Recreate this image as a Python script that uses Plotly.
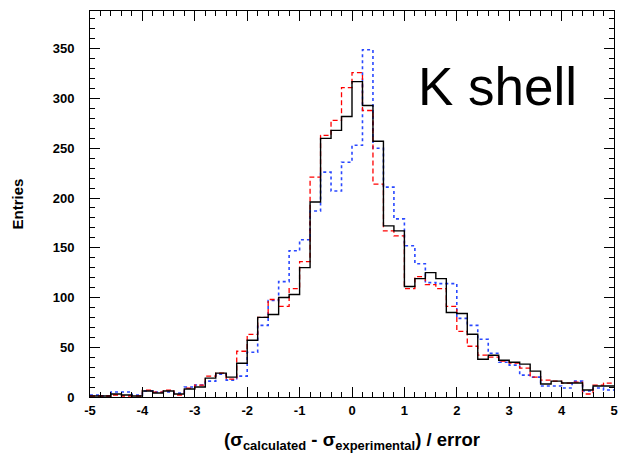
import numpy as np
import plotly.graph_objects as go

# Histogram binning
x_min = -5.0
bin_width = 0.2
n_bins = 50

# Entries per bin
black_counts = [1, 1, 3, 2, 1, 6, 4, 6, 3, 8, 10, 19, 24, 20, 34, 57, 80, 83, 100, 103,
                130, 196, 260, 268, 282, 317, 293, 257, 172, 167, 111, 119, 125, 119, 85,
                84, 63, 38, 42, 37, 35, 33, 26, 13, 16, 14, 14, 7, 11, 11]
red_counts = [1, 1, 2, 1, 1, 7, 5, 7, 2, 9, 12, 21, 24, 18, 46, 63, 80, 98, 91, 109,
              136, 221, 263, 278, 311, 326, 288, 214, 167, 162, 109, 121, 113, 109, 91,
              66, 51, 42, 40, 36, 34, 29, 20, 17, 16, 14, 15, 3, 12, 14]
blue_counts = [2, 1, 5, 5, 2, 6, 5, 5, 4, 10, 12, 16, 23, 17, 21, 45, 72, 97, 116, 147,
               158, 187, 226, 207, 236, 253, 349, 250, 211, 179, 152, 134, 115, 114, 114,
               79, 72, 58, 44, 35, 32, 22, 20, 11, 11, 9, 16, 6, 9, 7]

x_ticks = [-5, -4, -3, -2, -1, 0, 1, 2, 3, 4, 5]
y_ticks = [0, 50, 100, 150, 200, 250, 300, 350]

edges = x_min + bin_width * np.arange(n_bins + 1)

def step(counts):
    return list(edges), list(counts) + [counts[-1]]

fig = go.Figure()
for counts, color, dash, width in [
    (blue_counts, "#2a48ff", "dot", 1.6),
    (red_counts, "#ff0000", "5px,3px", 1.3),
    (black_counts, "#000000", "solid", 1.4),
]:
    xs, ys = step(counts)
    fig.add_trace(go.Scatter(x=xs, y=ys, mode="lines", line_shape="hv",
                             line=dict(color=color, dash=dash, width=width),
                             showlegend=False, hoverinfo="skip"))

fig.add_annotation(text="K shell", x=1.23, y=312, xref="x", yref="y",
                   xanchor="left", yanchor="middle", showarrow=False,
                   font=dict(family="Liberation Sans", size=53, color="black"))

tick_font = dict(family="Liberation Sans", size=13, color="black", weight="bold")

fig.update_xaxes(range=[-5, 5], tickmode="array", tickvals=x_ticks,
                 ticktext=[str(v) for v in x_ticks],
                 ticks="inside", ticklen=10, tickwidth=1, tickcolor="black",
                 minor=dict(ticks="inside", ticklen=5, dtick=0.2, tick0=-5,
                            tickcolor="black", tickwidth=1, showgrid=False),
                 showline=True, linecolor="black", linewidth=1, mirror="allticks",
                 showgrid=False, zeroline=False, tickfont=tick_font,
                 ticklabelstandoff=1, ticklabeloverflow="allow", automargin=False,
                 title=dict(text="(σ<sub>calculated</sub> - σ<sub>experimental</sub>) / error",
                            font=dict(family="Liberation Sans", size=18.5, color="black",
                                      weight="bold"),
                            standoff=16))
fig.update_yaxes(range=[0, 388], tickmode="array", tickvals=y_ticks,
                 ticktext=[str(v) for v in y_ticks],
                 ticks="inside", ticklen=10, tickwidth=1, tickcolor="black",
                 minor=dict(ticks="inside", ticklen=5, dtick=10, tick0=0,
                            tickcolor="black", tickwidth=1, showgrid=False),
                 showline=True, linecolor="black", linewidth=1, mirror="allticks",
                 showgrid=False, zeroline=False, tickfont=tick_font,
                 ticklabelstandoff=12, ticklabeloverflow="allow", automargin=False,
                 title=dict(text="Entries",
                            font=dict(family="Liberation Sans", size=15, color="black",
                                      weight="bold"),
                            standoff=25))

fig.update_layout(width=619, height=455,
                  margin=dict(l=90, r=5, t=11, b=58, autoexpand=False),
                  paper_bgcolor="white", plot_bgcolor="white")

fig.write_html("out.html",
               config={"displayModeBar": False},
               post_script="document.body.style.margin='0px';"
                           "document.body.style.overflow='hidden';")
